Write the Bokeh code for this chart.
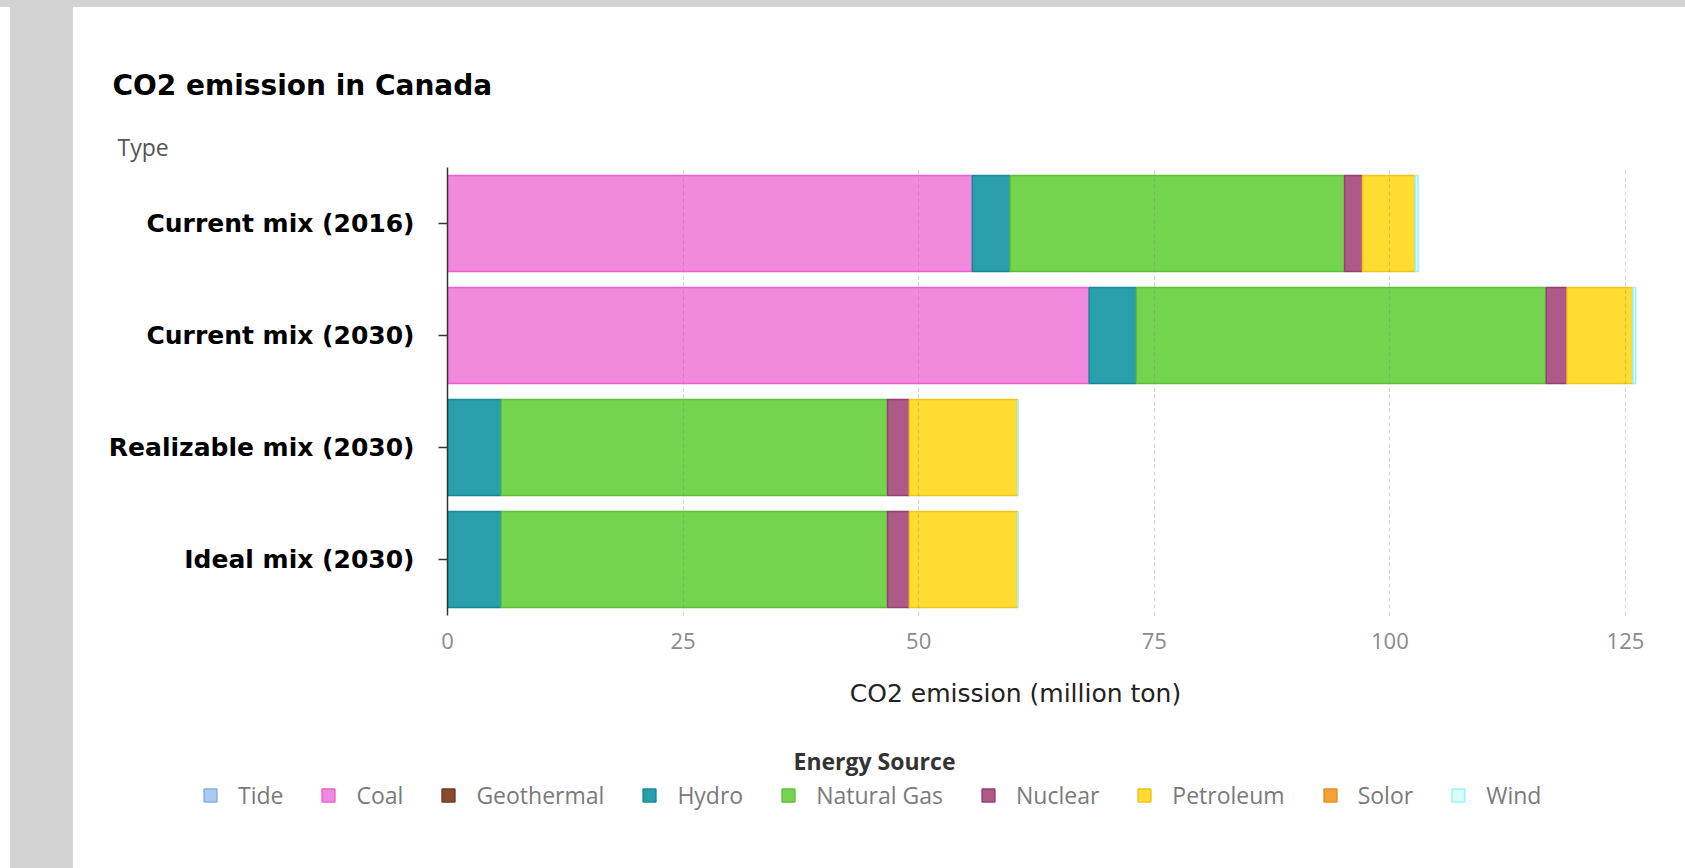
from bokeh.plotting import figure
from bokeh.models import (ColumnDataSource, FactorRange, Range1d, FixedTicker, Title, Spacer,
                          Legend, LegendItem, Label)
from bokeh.layouts import column, row
from bokeh.embed import file_html
from bokeh.resources import INLINE

# ---- data ----
types = ["Current mix (2016)", "Current mix (2030)", "Realizable mix (2030)", "Ideal mix (2030)"]
energy_sources = ["Tide", "Coal", "Geothermal", "Hydro", "Natural Gas", "Nuclear", "Petroleum", "Solor", "Wind"]
tide = [0, 0, 0, 0]
coal = [55.7, 68.1, 0, 0]
geothermal = [0, 0, 0, 0]
hydro = [4.0, 5.0, 5.7, 5.7]
natural_gas = [35.5, 43.5, 41.0, 41.0]
nuclear = [1.9, 2.2, 2.3, 2.3]
petroleum = [5.6, 7.0, 11.5, 11.5]
solor = [0, 0, 0, 0]
wind = [0.3, 0.3, 0, 0]
x_ticks = [0, 25, 50, 75, 100, 125]

# ---- styles ----
fill_colors = ["#a9cbee", "#f189dd", "#8b4a2e", "#2a9fac", "#74d44e", "#ad5a89", "#ffdc30", "#f5a03a", "#d8ffff"]
line_colors = ["#7fb2e5", "#ec5fd4", "#6e3520", "#15899a", "#5cbf3a", "#973e70", "#f0c41a", "#e88a1c", "#9ff0ff"]

data = {"type": types, "Tide": tide, "Coal": coal, "Geothermal": geothermal, "Hydro": hydro,
        "Natural Gas": natural_gas, "Nuclear": nuclear, "Petroleum": petroleum, "Solor": solor, "Wind": wind}
src = ColumnDataSource(data)
line_alphas = [0.0 if max(data[s]) == 0 else 1.0 for s in energy_sources]

# ---------------- main chart ----------------
p = figure(y_range=FactorRange(factors=types[::-1]), x_range=Range1d(0, 126.6),
           frame_width=1193, frame_height=448,
           min_border_left=374, min_border_right=45, min_border_top=160, min_border_bottom=42,
           output_backend="svg", toolbar_location=None)
p.border_fill_color = "white"
p.outline_line_color = None

p.hbar_stack(energy_sources, y="type", height=0.857, source=src,
             fill_color=fill_colors, line_color=line_colors, line_alpha=line_alphas,
             line_width=1.5)

p.xaxis.ticker = FixedTicker(ticks=x_ticks)
p.xaxis.axis_line_color = None
p.xaxis.major_tick_line_color = None
p.xaxis.minor_tick_line_color = None
p.xaxis.major_label_text_font = "Open Sans"
p.xaxis.major_label_text_font_size = "22px"
p.xaxis.major_label_text_color = "#8a8a8a"
p.xaxis.major_label_standoff = 11

p.yaxis.axis_line_color = "#333333"
p.yaxis.axis_line_width = 1.5
p.yaxis.major_tick_out = 9
p.yaxis.major_tick_in = 0
p.yaxis.major_tick_line_color = "#333333"
p.yaxis.major_tick_line_width = 1.5
p.yaxis.major_label_text_font = "DejaVu Sans"
p.yaxis.major_label_text_font_style = "bold"
p.yaxis.major_label_text_font_size = "25px"
p.yaxis.major_label_text_color = "#000000"
p.yaxis.major_label_standoff = 24

p.xgrid.ticker = FixedTicker(ticks=x_ticks[1:])
p.xgrid.grid_line_color = "#777777"
p.xgrid.grid_line_alpha = 0.3
p.xgrid.grid_line_dash = "4 3"
p.xgrid.level = "overlay"
p.ygrid.grid_line_color = None

p.add_layout(Title(text="Type", align="left", offset=-330, standoff=10,
                   text_font="Open Sans", text_font_style="normal", text_font_size="23px",
                   text_color="#555555"), "above")
p.title.text = "CO2 emission in Canada"
p.title.align = "left"
p.title.offset = -335
p.title.standoff = 43
p.title.text_font = "DejaVu Sans"
p.title.text_font_style = "bold"
p.title.text_font_size = "28px"
p.title.text_color = "#000000"

# ---------------- bottom strip: axis title + legend ----------------
lf = figure(width=1612, height=211, y_range=FactorRange(factors=types[::-1]), x_range=Range1d(0, 126.6),
            min_border_left=0, min_border_right=0, min_border_top=0, min_border_bottom=0,
            output_backend="svg", toolbar_location=None)
lf.axis.visible = False
lf.grid.visible = False
lf.outline_line_color = None
lf.border_fill_color = "white"
for fig in (p, lf):
    if "frame_align" in fig.properties():
        fig.frame_align = False

lf.add_layout(Label(x=942, y=175, x_units="screen", y_units="screen",
                    text="CO2 emission (million ton)", text_font="DejaVu Sans",
                    text_font_size="25px", text_color="#222222",
                    text_align="center", text_baseline="middle"))
lf.add_layout(Label(x=801, y=108, x_units="screen", y_units="screen",
                    text="Energy Source", text_font="Open Sans", text_font_style="bold",
                    text_font_size="23px", text_color="#333333",
                    text_align="center", text_baseline="middle"))

# legend keys: same stacked series, not displayed in this strip (only their legend swatches)
key_renderers = lf.hbar_stack(energy_sources, y="type", height=0.857, source=src,
                              fill_color=fill_colors, line_color=line_colors,
                              line_width=1.5, visible=False)
items = [LegendItem(label=s, renderers=[r]) for s, r in zip(energy_sources, key_renderers)]
lg = Legend(items=items, orientation="horizontal", location=(129, 57),
            background_fill_alpha=0, border_line_alpha=0, padding=0, margin=0,
            spacing=37, label_standoff=20, glyph_width=16, glyph_height=16,
            inactive_fill_alpha=0,
            label_text_font="Open Sans", label_text_font_size="23px", label_text_color="#7a7a7a")
lf.add_layout(lg)

gray = "#d3d3d3"
top_band = Spacer(width=1685, height=7, styles={"background-color": gray})
left_white = Spacer(width=10, height=861, styles={"background-color": "white"})
left_gray = Spacer(width=63, height=861, styles={"background-color": gray})
layout = column(top_band, row(left_white, left_gray, column(p, lf)))

open("out.html", "w").write(file_html(layout, INLINE))
